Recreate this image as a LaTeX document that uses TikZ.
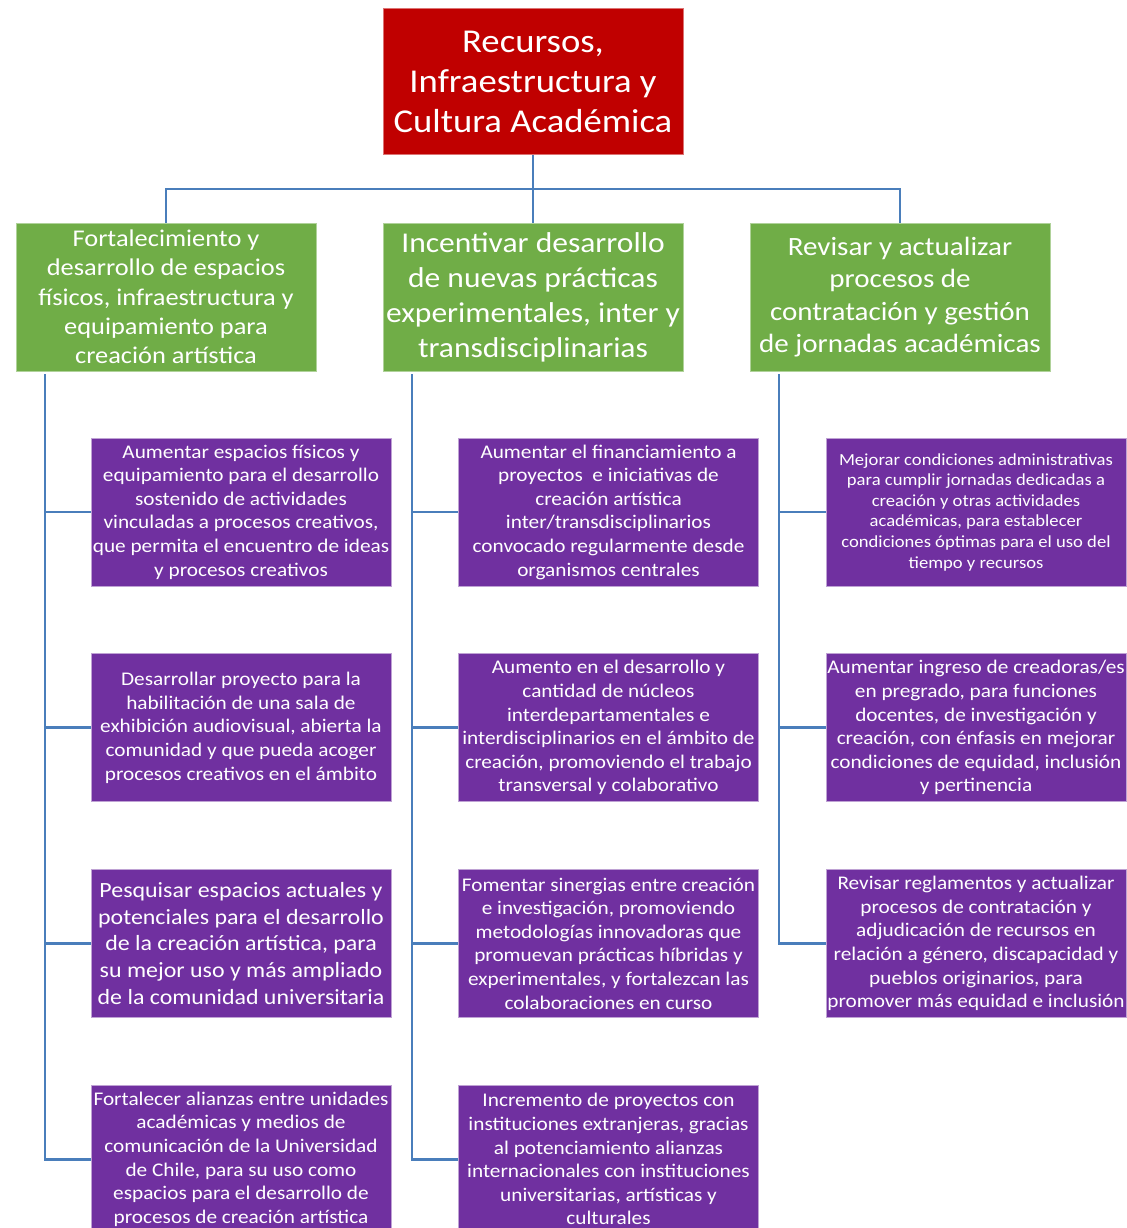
\documentclass[tikz,border=0pt]{standalone}
\usepackage{fontspec}
\setmainfont{Carlito}[FakeStretch=1.1]
\usetikzlibrary{positioning}
\definecolor{RootRed}{RGB}{192,0,0}
\definecolor{AreaGreen}{RGB}{112,173,71}
\definecolor{GoalPurple}{RGB}{112,48,160}
\definecolor{LinkBlue}{RGB}{74,126,187}
\tikzset{
  link/.style={line width=2pt,draw=LinkBlue},
  rootbox/.style={fill=RootRed,draw=RootRed!55,line width=0.6pt,text=white,
    minimum width=225pt,minimum height=110pt,align=center,inner sep=1pt,
    font=\fontsize{25}{30}\selectfont},
  areabox/.style={fill=AreaGreen,draw=AreaGreen!55,line width=0.6pt,text=white,
    minimum width=225pt,minimum height=111pt,align=center,inner sep=1pt},
  goalbox/.style={fill=GoalPurple,draw=GoalPurple!45,line width=0.6pt,text=white,
    minimum width=225pt,minimum height=111pt,align=center,inner sep=1pt,
    font=\fontsize{14.5}{17.7}\selectfont}
}

\begin{document}
\begin{tikzpicture}[x=0.75pt,y=-0.75pt,node distance=50.2pt]
  \useasboundingbox (0,0) rectangle (1127,1228);
  % top
  \node[rootbox] (root) at (533,81.5) {Recursos,\\Infraestructura y\\Cultura Académica};
  \node[areabox,font=\fontsize{18}{22}\selectfont] (catA) at (166,297)
    {Fortalecimiento y\\desarrollo de espacios\\físicos, infraestructura y\\equipamiento para\\creación artística};
  \node[areabox,font=\fontsize{21.5}{26.2}\selectfont] (catB) at (533,297)
    {Incentivar desarrollo\\de nuevas prácticas\\experimentales, inter y\\transdisciplinarias};
  \node[areabox,font=\fontsize{19.8}{24.2}\selectfont] (catC) at (900,297)
    {Revisar y actualizar\\procesos de\\contratación y gestión\\de jornadas académicas};
  \coordinate (hub) at (533,189);
  \draw[link] (root.south) -- (hub);
  \draw[link] (hub) -| (catA.north);
  \draw[link] (hub) -- (catB.north);
  \draw[link] (hub) -| (catC.north);

  % first column
  \node[goalbox] (a1) at (241,512) {Aumentar espacios físicos y\\equipamiento para el desarrollo\\sostenido de actividades\\vinculadas a procesos creativos,\\que permita el encuentro de ideas\\y procesos creativos};
  \node[goalbox,below=of a1] (a2) {Desarrollar proyecto para la\\habilitación de una sala de\\exhibición audiovisual, abierta la\\comunidad y que pueda acoger\\procesos creativos en el ámbito};
  \node[goalbox,below=of a2,font=\fontsize{16.3}{19.9}\selectfont] (a3) {Pesquisar espacios actuales y\\potenciales para el desarrollo\\de la creación artística, para\\su mejor uso y más ampliado\\de la comunidad universitaria};
  \node[goalbox,below=of a3] (a4) {Fortalecer alianzas entre unidades\\académicas y medios de\\comunicación de la Universidad\\de Chile, para su uso como\\espacios para el desarrollo de\\procesos de creación artística};
  \coordinate (trunkA) at (45,374);
  \draw[link] (trunkA) |- (a4.west);
  \draw[link] (trunkA |- a1.west) -- (a1.west);
  \draw[link] (trunkA |- a2.west) -- (a2.west);
  \draw[link] (trunkA |- a3.west) -- (a3.west);

  % second column
  \node[goalbox] (b1) at (608.5,512) {Aumentar el financiamiento a\\proyectos~ e iniciativas de\\creación artística\\inter/transdisciplinarios\\convocado regularmente desde\\organismos centrales};
  \node[goalbox,below=of b1] (b2) {Aumento en el desarrollo y\\cantidad de núcleos\\interdepartamentales e\\interdisciplinarios en el ámbito de\\creación, promoviendo el trabajo\\transversal y colaborativo};
  \node[goalbox,below=of b2] (b3) {Fomentar sinergias entre creación\\e investigación, promoviendo\\metodologías innovadoras que\\promuevan prácticas híbridas y\\experimentales, y fortalezcan las\\colaboraciones en curso};
  \node[goalbox,below=of b3] (b4) {Incremento de proyectos con\\instituciones extranjeras, gracias\\al potenciamiento alianzas\\internacionales con instituciones\\universitarias, artísticas y\\culturales};
  \coordinate (trunkB) at (412,374);
  \draw[link] (trunkB) |- (b4.west);
  \draw[link] (trunkB |- b1.west) -- (b1.west);
  \draw[link] (trunkB |- b2.west) -- (b2.west);
  \draw[link] (trunkB |- b3.west) -- (b3.west);

  % third column
  \node[goalbox,font=\fontsize{12.7}{15.45}\selectfont] (c1) at (976,512) {Mejorar condiciones administrativas\\para cumplir jornadas dedicadas a\\creación y otras actividades\\académicas, para establecer\\condiciones óptimas para el uso del\\tiempo y recursos};
  \node[goalbox,below=of c1] (c2) {Aumentar ingreso de creadoras/es\\en pregrado, para funciones\\docentes, de investigación y\\creación, con énfasis en mejorar\\condiciones de equidad, inclusión\\y pertinencia};
  \node[goalbox,below=of c2] (c3) {Revisar reglamentos y actualizar\\procesos de contratación y\\adjudicación de recursos en\\relación a género, discapacidad y\\pueblos originarios, para\\promover más equidad e inclusión};
  \coordinate (trunkC) at (779,374);
  \draw[link] (trunkC) |- (c3.west);
  \draw[link] (trunkC |- c1.west) -- (c1.west);
  \draw[link] (trunkC |- c2.west) -- (c2.west);
\end{tikzpicture}
\end{document}
